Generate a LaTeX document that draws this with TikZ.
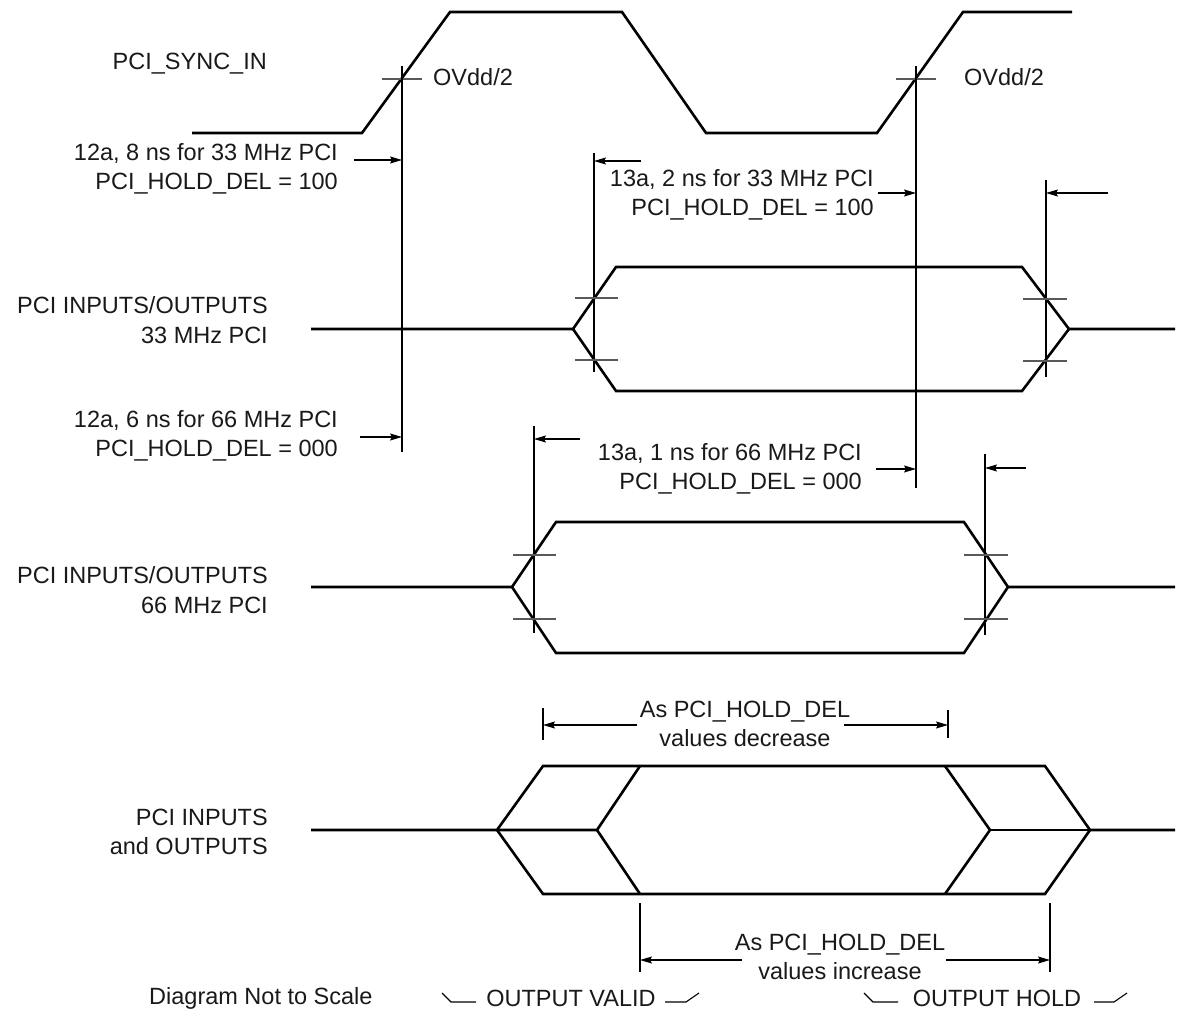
\documentclass[tikz,border=0pt]{standalone}
\usepackage{fontspec}
\setmainfont{Liberation Sans}
\usetikzlibrary{arrows.meta}

\begin{document}
\begin{tikzpicture}[x=1pt, y=-1pt,
    sig/.style={line width=2.6pt, line join=miter},
    ref/.style={line width=1.1pt},
    tickline/.style={line width=1.1pt, black!65},
    dim/.style={line width=1.1pt, -{Stealth[length=12pt, width=7pt, inset=2pt]}},
    lbl/.style={inner sep=0pt, font=\fontsize{23.5}{29.5}\selectfont},
    every node/.style={text=black!90}]
        \useasboundingbox (0,0) rectangle (1183,1030);

        % PCI_SYNC_IN clock
        \node[lbl, anchor=east] (sync) at (267, 64) {PCI\_SYNC\_IN};
        \draw[sig] (192,133) -- (362,133) -- (450,12) -- (622,12) -- (706,133) -- (877,133) -- (963,12) -- (1072,12);
        \draw[tickline] (382,79) -- (422,79);
        \draw[tickline] (896,79) -- (936,79);
        \node[lbl, anchor=west] (ovddA) at (433, 77) {OVdd/2};
        \node[lbl, anchor=west] (ovddB) at (964, 77) {OVdd/2};

        % Reference lines
        \draw[ref] (402,66) -- (402,452);
        \draw[ref] (916,66) -- (916,488);
        \draw[ref] (594,153) -- (594,372);
        \draw[ref] (1046,180) -- (1046,377);
        \draw[ref] (534,426) -- (534,633);
        \draw[ref] (985,454) -- (985,635);

        % Timing values - 33 MHz
        \node[lbl, anchor=east, align=right] (outA) at (338, 169) {12a, 8 ns for 33 MHz PCI\\PCI\_HOLD\_DEL = 100};
        \draw[dim] (354,160) -- (402,160);
        \node[lbl, anchor=east, align=right] (holdA) at (874, 195) {13a, 2 ns for 33 MHz PCI\\PCI\_HOLD\_DEL = 100};
        \draw[dim] (641,161) -- (594,161);
        \draw[dim] (878,193) -- (916,193);
        \draw[dim] (1108,193) -- (1046,193);

        % PCI inputs/outputs - 33 MHz
        \node[lbl, anchor=east, align=right] (ioA) at (268, 320) {PCI INPUTS/OUTPUTS\\33 MHz PCI};
        \draw[sig] (311,329) -- (573,329) -- (616,267) -- (1022,267) -- (1069,329) -- (1175,329);
        \draw[sig] (573,329) -- (616,391) -- (1022,391) -- (1069,329);
        \draw[tickline] (575,298) -- (618,298);
        \draw[tickline] (575,360) -- (618,360);
        \draw[tickline] (1023,299) -- (1067,299);
        \draw[tickline] (1023,361) -- (1067,361);

        % Timing values - 66 MHz
        \node[lbl, anchor=east, align=right] (outB) at (338, 436) {12a, 6 ns for 66 MHz PCI\\PCI\_HOLD\_DEL = 000};
        \draw[dim] (360,437) -- (402,437);
        \node[lbl, anchor=east, align=right] (holdB) at (862, 469) {13a, 1 ns for 66 MHz PCI\\PCI\_HOLD\_DEL = 000};
        \draw[dim] (580,439) -- (534,439);
        \draw[dim] (876,469) -- (916,469);
        \draw[dim] (1026,468) -- (985,468);

        % PCI inputs/outputs - 66 MHz
        \node[lbl, anchor=east, align=right] (ioB) at (268, 590) {PCI INPUTS/OUTPUTS\\66 MHz PCI};
        \draw[sig] (311,587) -- (512,587) -- (556,522) -- (964,522) -- (1008,587) -- (1175,587);
        \draw[sig] (512,587) -- (556,653) -- (964,653) -- (1008,587);
        \draw[tickline] (513,555) -- (556,555);
        \draw[tickline] (513,619) -- (556,619);
        \draw[tickline] (964,555) -- (1008,555);
        \draw[tickline] (964,619) -- (1008,619);

        % Valid window shrinks
        \node[lbl, align=center] (decr) at (745, 724) {As PCI\_HOLD\_DEL\\values decrease};
        \draw[ref] (543,708) -- (543,740);
        \draw[ref] (948,710) -- (948,738);
        \draw[dim] (637,725) -- (543,725);
        \draw[dim] (844,725) -- (948,725);

        % PCI inputs and outputs - combined
        \node[lbl, anchor=east, align=right] (ioC) at (268, 832) {PCI INPUTS\\and OUTPUTS};
        \draw[sig] (311,830) -- (497,830) -- (543,766) -- (1045,766) -- (1090,830) -- (1175,830);
        \draw[sig] (497,830) -- (543,894) -- (1045,894) -- (1090,830);
        \draw[sig] (497,830) -- (597,830) -- (640,766);
        \draw[sig] (597,830) -- (640,894);
        \draw[sig] (945,766) -- (990,830) -- (945,894);
        \draw[sig] (990,830) -- (1090,830);

        % Hold window grows
        \node[lbl, align=center] (incr) at (840, 957) {As PCI\_HOLD\_DEL\\values increase};
        \draw[ref] (640,903) -- (640,972);
        \draw[ref] (1050,903) -- (1050,972);
        \draw[dim] (742,960) -- (640,960);
        \draw[dim] (946,960) -- (1050,960);

        % Legend
        \node[lbl, anchor=west] (note) at (149, 998) {Diagram Not to Scale};
        \node[lbl] (valid) at (571, 998) {OUTPUT VALID};
        \node[lbl] (hold) at (997, 998) {OUTPUT HOLD};
        \draw[ref] (442,993) -- (451,1002) -- (476,1002);
        \draw[ref] (665,1002) -- (686,1002) -- (699,993);
        \draw[ref] (864,993) -- (873,1002) -- (898,1002);
        \draw[ref] (1094,1002) -- (1114,1002) -- (1127,993);
    \end{tikzpicture}
\end{document}
